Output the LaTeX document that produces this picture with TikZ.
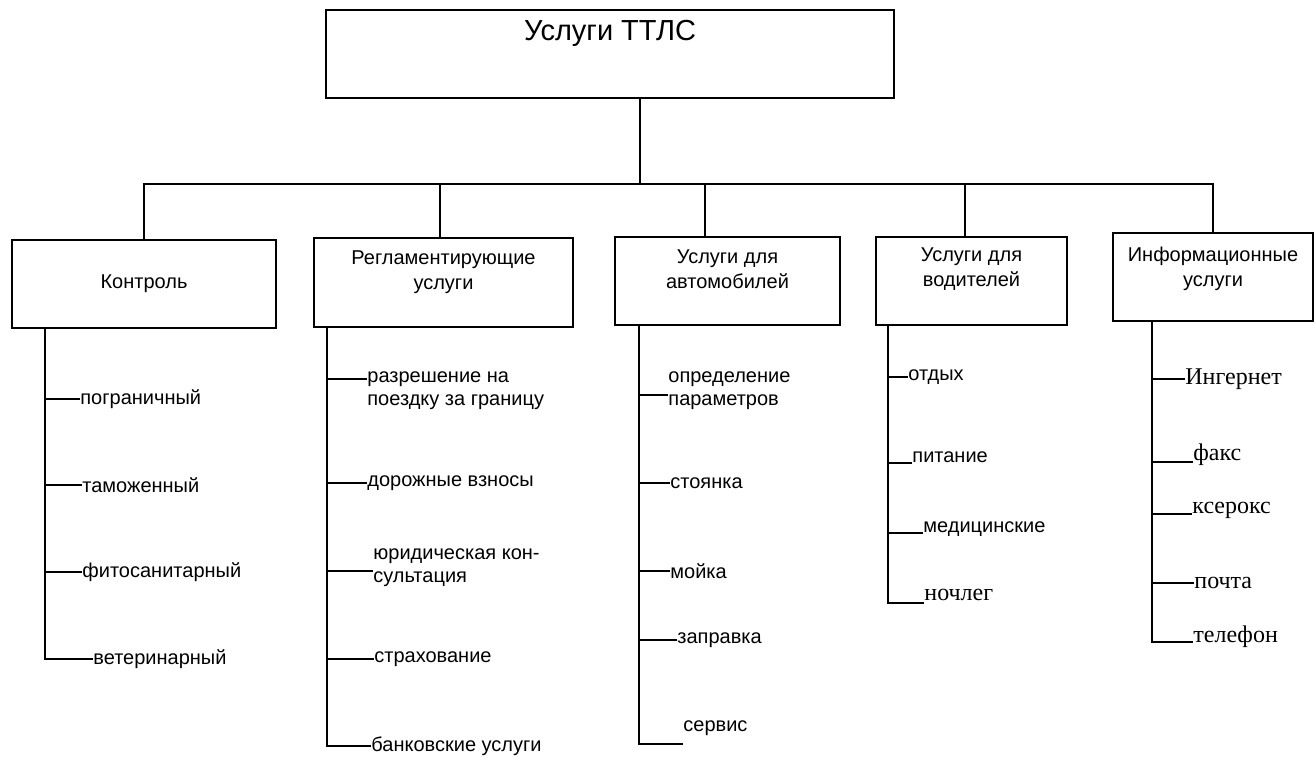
\documentclass[tikz,border=0pt]{standalone}
\usepackage{fontspec}
\setmainfont{Liberation Sans}
\newfontfamily\serifcyr{Liberation Serif}
\tikzset{
  root/.style   ={draw, line width=1.2pt, minimum width=284pt, minimum height=44pt},
  cat/.style    ={draw, line width=1.1pt, minimum height=44pt},
  cattxt/.style ={align=center, font=\fontsize{10}{12.5}\selectfont},
  leaf/.style   ={anchor=west, inner sep=0pt, align=left, font=\fontsize{10}{11.5}\selectfont},
  leafs/.style  ={anchor=west, inner sep=0pt, font=\serifcyr\fontsize{12}{14}\selectfont},
  link/.style   ={line width=0.9pt},
}

\begin{document}
\begin{tikzpicture}[x=0.5pt, y=-0.5pt]
  \useasboundingbox (0,0) rectangle (1315,758);
  \node[root] (root) at (610,54) {};
  \node[font=\fontsize{14.5}{17}\selectfont] (title) at ([yshift=-12.5pt]root.north) {Услуги ТТЛС};

  \node[cat, minimum width=132pt] (b1) at (144,284) {};
  \node[cat, minimum width=129.5pt, minimum height=44.5pt] (b2) at (443.5,282.5) {};
  \node[cat, minimum width=112.5pt] (b3) at (727.5,281) {};
  \node[cat, minimum width=95.5pt] (b4) at (971.5,281) {};
  \node[cat, minimum width=100pt] (b5) at (1213,277) {};
  \node[cattxt] (b1t) at (b1) {Контроль};
  \node[cattxt] (b2t) at ([yshift=5.25pt]b2.center) {Регламентирующие\\услуги};
  \node[cattxt] (b3t) at ([yshift=6pt]b3.center) {Услуги для\\автомобилей};
  \node[cattxt] (b4t) at ([yshift=6pt]b4.center) {Услуги для\\водителей};
  \node[cattxt] (b5t) at ([yshift=4.25pt]b5.center) {Информационные\\услуги};

  \coordinate (hub) at (640,184);
  \draw[link] (root.south -| hub) -- (hub);
  \foreach \b/\dx in {b1/0, b2/-1.75, b3/-11.25, b4/-3.25, b5/0}
    \draw[link] (hub) -| ([xshift=\dx pt]\b.north);

  \coordinate (c1) at (45,0);
  \coordinate (c2) at (327,0);
  \coordinate (c3) at (639,0);
  \coordinate (c4) at (888,0);
  \coordinate (c5) at (1152,0);

  \foreach \c/\n/\x/\y/\d/\s/\t in {
      c1/pogr/80/399/0/leaf/пограничный,
      c1/tamo/82/485/0/leaf/таможенный,
      c1/fito/82/572/0/leaf/фитосанитарный,
      c1/vet/93/659/0/leaf/ветеринарный,
      c2/razr/367/391/6/leaf/{разрешение на\\поездку за границу},
      c2/dor/367/483/0/leaf/дорожные взносы,
      c2/yur/373/568/-1.5/leaf/{юридическая кон-\\сультация},
      c2/strah/374/659/0/leaf/страхование,
      c2/bank/371/746/0/leaf/банковские услуги,
      c3/opr/668/391/-2/leaf/{определение\\параметров},
      c3/stoy/670/483/0/leaf/стоянка,
      c3/moyka/670/571/0/leaf/мойка,
      c3/zapr/677/640/0/leaf/заправка,
      c3/serv/683/728/-8/leaf/сервис,
      c4/otd/908/377/0/leaf/отдых,
      c4/pit/912/457/-3/leaf/питание,
      c4/med/923/529/-2/leaf/медицинские,
      c4/noch/924/595/-4/leafs/ночлег,
      c5/inet/1185/379/0/leafs/Ингернет,
      c5/faks/1193/455/-3.5/leafs/факс,
      c5/kser/1192/510/-2/leafs/ксерокс,
      c5/pocht/1194/583/0/leafs/почта,
      c5/tel/1193/637/-2.5/leafs/телефон}{
    \node[\s] (\n) at (\x,\y) {\t};
    \coordinate (\n-t) at ([yshift=\d pt]\n.west);
    \draw[link] (\n-t -| \c) -- (\n-t);
  }

  \draw[link] (b1.south -| c1) |- (vet-t);
  \draw[link] (b2.south -| c2) |- (bank-t);
  \draw[link] (b3.south -| c3) |- (serv-t);
  \draw[link] (b4.south -| c4) |- (noch-t);
  \draw[link] (b5.south -| c5) |- (tel-t);
\end{tikzpicture}
\end{document}
